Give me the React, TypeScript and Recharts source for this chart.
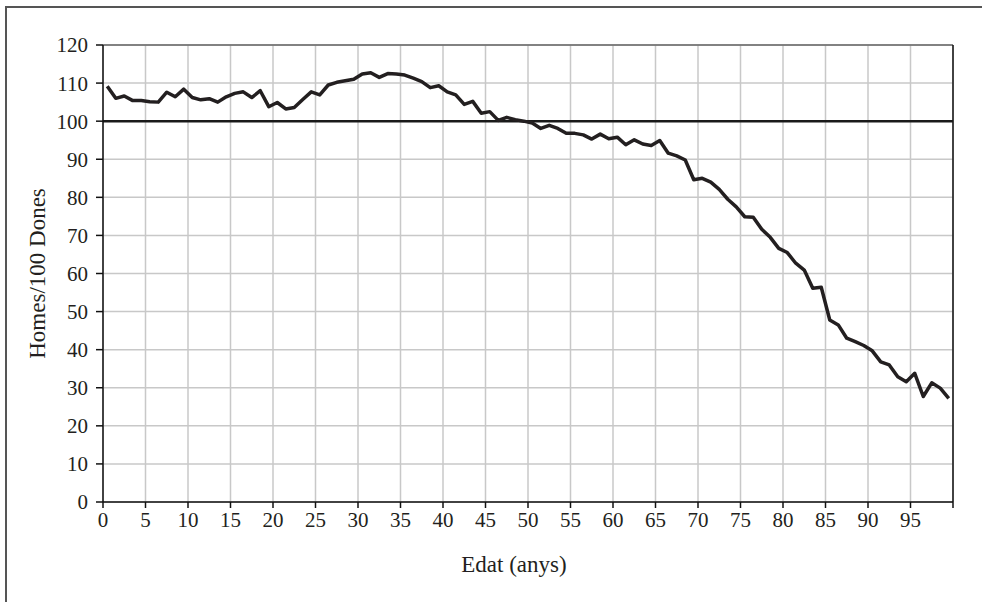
import { LineChart, Line, XAxis, YAxis, CartesianGrid, ReferenceLine, Label } from "recharts";

// Age in completed years (one point per year, 0..99)
const AGES = [
  0, 1, 2, 3, 4, 5, 6, 7, 8, 9, 10, 11, 12, 13, 14, 15, 16, 17, 18, 19,
  20, 21, 22, 23, 24, 25, 26, 27, 28, 29, 30, 31, 32, 33, 34, 35, 36, 37, 38, 39,
  40, 41, 42, 43, 44, 45, 46, 47, 48, 49, 50, 51, 52, 53, 54, 55, 56, 57, 58, 59,
  60, 61, 62, 63, 64, 65, 66, 67, 68, 69, 70, 71, 72, 73, 74, 75, 76, 77, 78, 79,
  80, 81, 82, 83, 84, 85, 86, 87, 88, 89, 90, 91, 92, 93, 94, 95, 96, 97, 98, 99,
];

// Men per 100 women
const RATIO = [
  109.2, 106.0, 106.6, 105.4, 105.4, 105.1, 105.0, 107.6, 106.4, 108.4,
  106.2, 105.6, 105.9, 105.0, 106.4, 107.3, 107.7, 106.2, 108.0, 103.8,
  104.9, 103.2, 103.6, 105.7, 107.7, 106.9, 109.5, 110.2, 110.6, 111.0,
  112.4, 112.7, 111.5, 112.5, 112.4, 112.1, 111.3, 110.4, 108.8, 109.3,
  107.7, 106.9, 104.4, 105.2, 102.1, 102.5, 100.2, 101.0, 100.4, 100.0,
  99.5, 98.1, 98.9, 98.1, 96.8, 96.8, 96.4, 95.3, 96.6, 95.4,
  95.8, 93.8, 95.1, 94.0, 93.6, 94.9, 91.6, 90.9, 89.8, 84.6,
  85.0, 84.0, 82.1, 79.5, 77.5, 74.9, 74.8, 71.6, 69.5, 66.6,
  65.5, 62.7, 60.9, 56.1, 56.4, 47.8, 46.5, 43.0, 42.1, 41.1,
  39.7, 36.8, 36.0, 32.9, 31.6, 33.8, 27.7, 31.3, 29.9, 27.2,
];

const X_TICKS = [0, 5, 10, 15, 20, 25, 30, 35, 40, 45, 50, 55, 60, 65, 70, 75, 80, 85, 90, 95, 100];
const Y_TICKS = [0, 10, 20, 30, 40, 50, 60, 70, 80, 90, 100, 110, 120];

const data = AGES.map((age, i) => ({ age, ratio: RATIO[i] }));

const FONT = "'Liberation Serif', 'DejaVu Serif', serif";
const TEXT = "#231f20";

const XTitle = ({ viewBox }: any) => (
  <text
    x={viewBox.x + viewBox.width / 2 - 14}
    y={viewBox.y + 62}
    textAnchor="middle"
    dominantBaseline="central"
    fontSize={23}
    fill={TEXT}
  >
    Edat (anys)
  </text>
);

const YTitle = ({ viewBox }: any) => {
  const x = viewBox.x - 6;
  const y = viewBox.y + viewBox.height / 2;
  return (
    <text
      x={x}
      y={y}
      transform={`rotate(-90 ${x} ${y})`}
      textAnchor="middle"
      dominantBaseline="central"
      fontSize={23}
      fill={TEXT}
    >
      Homes/100 Dones
    </text>
  );
};

export default function App() {
  return (
    <div style={{ position: "absolute", left: 0, top: 0, width: 985, height: 602, fontFamily: FONT, background: "#fff" }}>
      {/* chart frame, cut off at the right and bottom */}
      <div
        style={{
          position: "absolute",
          left: 5,
          top: 6,
          width: 975,
          height: 596,
          borderLeft: "2px solid #555",
          borderTop: "2px solid #555",
        }}
      />
      <div style={{ position: "absolute", left: 0, top: 0 }}>
        <LineChart width={985} height={602} data={data} margin={{ top: 45, right: 32, bottom: 0, left: 43 }}>
          <CartesianGrid stroke="#c8c8c8" strokeWidth={1.5} />
          <XAxis
            type="number"
            // each year is drawn at the centre of its interval
            dataKey={(d: any) => d.age + 0.5}
            domain={[0, 100]}
            ticks={X_TICKS}
            interval={0}
            tickFormatter={(v: number) => (v === 100 ? "" : String(v))}
            height={100}
            tickSize={6}
            tickMargin={4}
            axisLine={{ stroke: "#111", strokeWidth: 1.5 }}
            tickLine={{ stroke: "#111", strokeWidth: 1.5 }}
            tick={{ fill: TEXT, fontSize: 21 }}
          >
            <Label content={XTitle} />
          </XAxis>
          <YAxis
            type="number"
            domain={[0, 120]}
            ticks={Y_TICKS}
            interval={0}
            width={60}
            tickSize={7}
            tickMargin={8}
            axisLine={{ stroke: "#111", strokeWidth: 1.5 }}
            tickLine={{ stroke: "#111", strokeWidth: 1.5 }}
            tick={{ fill: TEXT, fontSize: 21 }}
          >
            <Label content={YTitle} />
          </YAxis>
          <ReferenceLine y={120} stroke="#666" strokeWidth={1.5} />
          <ReferenceLine x={100} stroke="#111" strokeWidth={1.5} />
          <ReferenceLine y={100} stroke="#1a1a1a" strokeWidth={2.5} />
          <Line
            type="linear"
            dataKey="ratio"
            stroke={TEXT}
            strokeWidth={3.5}
            strokeLinejoin="round"
            dot={false}
            isAnimationActive={false}
          />
        </LineChart>
      </div>
    </div>
  );
}
